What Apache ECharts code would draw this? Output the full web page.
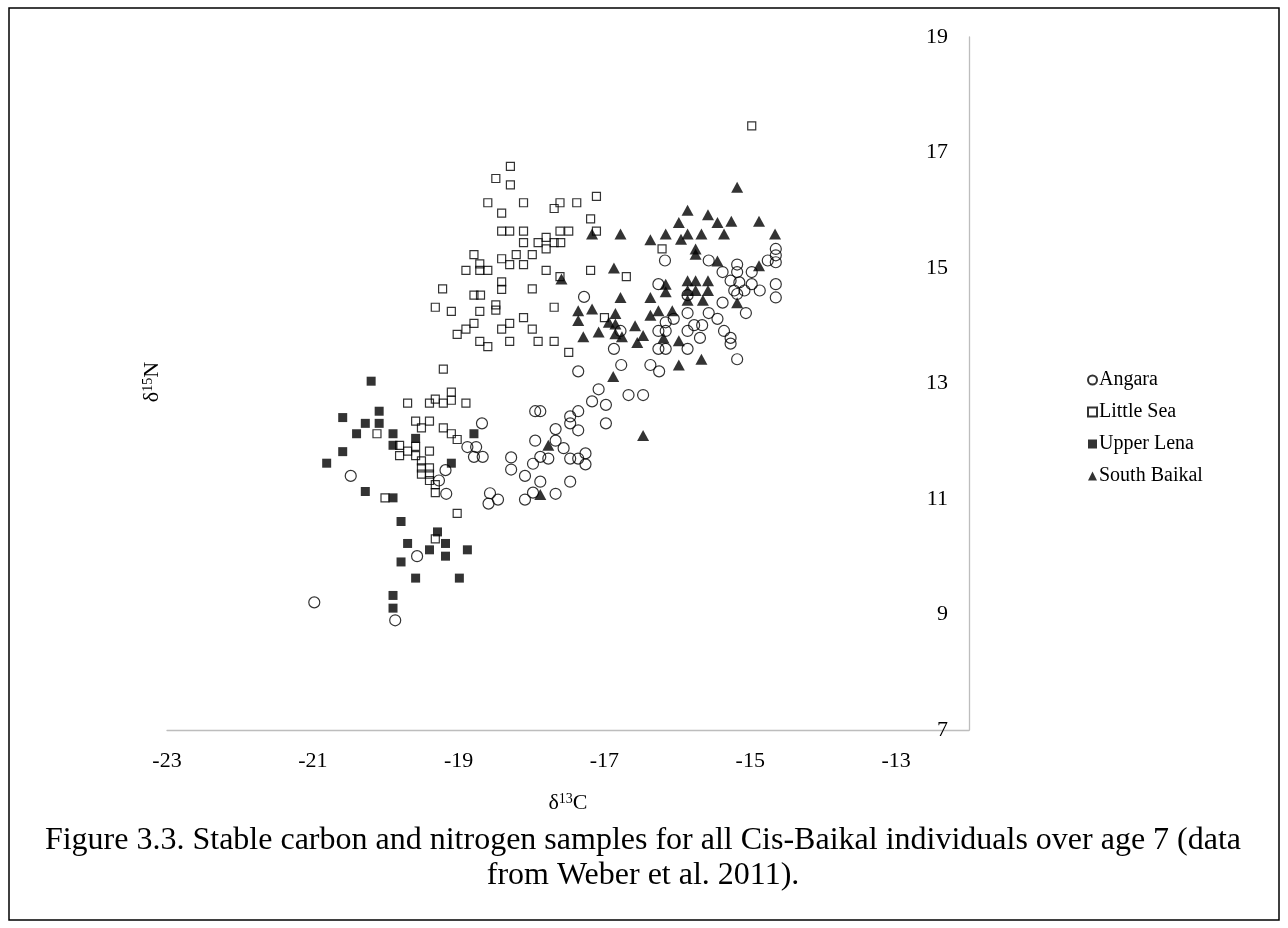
<!DOCTYPE html>
<html>
<head>
<meta charset="utf-8">
<script src="https://cdn.jsdelivr.net/npm/echarts@6/dist/echarts.min.js"></script>
<style>
  html, body { margin: 0; padding: 0; background: #fff; }
  #chart { width: 1288px; height: 928px; }
</style>
</head>
<body>
<div id="chart"></div>
<script>
// δ13C / δ15N (‰) pairs for each Cis-Baikal region
const angara = [
  [-20.48,11.40],[-20.98,9.21],[-19.87,8.90],[-19.57,10.01],[-19.18,11.50],[-19.27,11.32],[-19.17,11.09],
  [-18.68,12.31],[-18.88,11.90],[-18.76,11.90],[-18.79,11.73],[-18.67,11.73],[-18.57,11.10],[-18.46,10.99],
  [-18.59,10.92],[-18.28,11.72],[-18.28,11.51],[-18.09,11.40],[-18.09,10.99],
  [-17.28,14.50],[-16.78,13.91],[-16.87,13.60],
  [-16.77,13.32],[-17.36,13.21],[-16.37,13.32],[-16.25,13.21],[-17.08,12.90],[-17.17,12.69],[-16.98,12.63],
  [-16.67,12.80],[-16.47,12.80],[-16.98,12.31],[-17.95,12.52],[-17.88,12.52],[-17.36,12.52],[-17.47,12.43],
  [-17.47,12.31],[-17.36,12.19],[-17.67,12.21],[-17.95,12.01],[-17.67,12.01],[-17.56,11.88],[-17.88,11.73],
  [-17.77,11.70],[-17.98,11.61],[-17.47,11.70],[-17.36,11.70],[-17.26,11.79],[-17.26,11.60],[-17.88,11.30],
  [-17.47,11.30],[-17.98,11.11],[-17.67,11.09],
  [-16.26,13.60],[-16.16,13.60],[-15.86,13.60],[-16.26,13.91],[-16.16,13.91],[-15.86,13.91],[-15.69,13.79],
  [-15.77,14.01],[-15.66,14.01],[-15.36,13.91],[-15.27,13.79],[-15.27,13.69],[-15.18,13.42],[-15.06,14.22],
  [-15.45,14.12],[-15.57,14.22],[-15.86,14.22],[-16.05,14.12],[-16.16,14.06],
  [-16.17,15.13],[-15.57,15.13],[-14.65,15.33],[-14.65,15.22],[-14.65,15.10],[-14.76,15.13],[-15.18,15.06],
  [-15.18,14.93],[-15.38,14.93],[-14.98,14.93],[-15.27,14.78],[-15.15,14.75],[-14.98,14.72],[-14.87,14.61],
  [-15.08,14.61],[-15.22,14.61],[-14.65,14.72],[-14.65,14.49],[-16.26,14.72],[-15.38,14.40],[-15.18,14.55],
  [-15.86,14.53]
];
const littleSea = [
  [-19.21,13.25],[-19.70,12.66],[-19.40,12.66],[-19.32,12.73],[-19.21,12.66],[-19.10,12.85],[-19.10,12.71],
  [-18.90,12.66],[-19.59,12.35],[-19.51,12.23],[-19.40,12.35],[-20.12,12.13],[-19.21,12.23],[-19.10,12.13],
  [-19.02,12.03],[-19.81,11.93],[-19.81,11.75],[-19.70,11.83],[-19.59,11.91],[-19.59,11.75],[-19.40,11.83],
  [-19.51,11.66],[-19.51,11.54],[-19.40,11.54],[-19.51,11.43],[-19.40,11.43],[-19.40,11.32],[-19.32,11.25],
  [-19.32,11.11],[-20.01,11.02],[-19.02,10.75],[-19.32,10.31],
  [-18.29,16.76],[-18.49,16.55],[-18.29,16.44],[-18.60,16.13],[-18.11,16.13],[-18.41,15.95],[-17.61,16.13],
  [-17.69,16.03],[-17.38,16.13],[-17.11,16.24],[-17.19,15.85],[-18.41,15.64],[-18.30,15.64],[-18.11,15.64],
  [-17.61,15.64],[-17.49,15.64],[-17.11,15.64],[-18.11,15.44],[-17.91,15.44],[-17.80,15.53],[-17.80,15.33],
  [-17.69,15.44],[-17.60,15.44],[-18.79,15.23],[-18.71,15.07],[-18.41,15.16],[-18.21,15.23],[-17.99,15.23],
  [-18.30,15.06],[-18.11,15.06],[-18.90,14.96],[-18.71,14.96],[-18.60,14.96],[-17.80,14.96],[-17.19,14.96],
  [-16.70,14.85],[-17.61,14.85],[-18.41,14.76],[-18.41,14.63],[-19.22,14.64],[-17.99,14.64],[-18.79,14.53],
  [-18.70,14.53],[-19.32,14.32],[-19.10,14.25],[-18.71,14.25],[-18.49,14.36],[-18.49,14.27],[-17.69,14.32],
  [-18.11,14.14],[-18.79,14.04],[-18.90,13.94],[-19.02,13.85],[-18.30,14.04],[-18.41,13.94],[-17.99,13.94],
  [-18.71,13.73],[-18.60,13.64],[-18.30,13.73],[-17.91,13.73],[-17.69,13.73],[-17.49,13.54],[-17.00,14.14],
  [-14.98,17.46],[-16.21,15.33]
];
const upperLena = [
  [-20.20,13.04],[-20.59,12.41],[-20.09,12.52],[-20.28,12.31],[-20.09,12.31],[-20.40,12.13],[-19.90,12.13],
  [-19.59,12.05],[-19.90,11.93],[-20.59,11.82],[-20.81,11.62],[-18.79,12.13],[-19.10,11.62],[-20.28,11.13],
  [-19.90,11.02],[-19.79,10.61],[-19.29,10.43],[-19.70,10.23],[-19.40,10.12],[-19.18,10.23],[-19.18,10.01],
  [-18.88,10.12],[-19.79,9.91],[-19.59,9.63],[-18.99,9.63],[-19.90,9.33],[-19.90,9.11]
];
const southBaikal = [
  [-17.17,15.59],[-16.78,15.59],[-17.59,14.81],[-16.87,15.00],[-16.78,14.49],[-17.36,14.26],[-17.17,14.29],
  [-17.36,14.09],[-16.85,14.21],[-16.94,14.06],[-16.85,14.03],[-17.08,13.89],[-17.29,13.81],[-16.85,13.86],
  [-16.76,13.81],[-16.58,14.00],
  [-16.55,13.71],[-16.47,13.83],[-16.37,14.18],[-16.26,14.26],[-16.07,14.26],[-16.19,13.79],[-15.98,13.74],
  [-15.98,13.32],[-15.67,13.42],[-16.88,13.12],[-16.47,12.10],[-17.77,11.93],[-17.88,11.08],
  [-15.18,16.40],[-15.86,16.00],[-15.98,15.79],[-15.58,15.92],[-15.45,15.79],[-15.26,15.81],[-14.88,15.81],
  [-14.66,15.59],[-15.36,15.59],[-15.67,15.59],[-15.86,15.59],[-15.95,15.50],[-16.16,15.59],[-16.37,15.49],
  [-15.75,15.24],[-15.75,15.33],[-15.45,15.12],[-14.88,15.04],[-16.37,14.49],[-16.16,14.72],[-16.16,14.59],
  [-15.86,14.78],[-15.75,14.78],[-15.58,14.78],[-15.86,14.61],[-15.75,14.61],[-15.58,14.61],[-15.86,14.44],
  [-15.65,14.44],[-15.18,14.40]
];

const seriesNames = ['Angara', 'Little Sea', 'Upper Lena', 'South Baikal'];
const xRange = [-23, -12];
const yRange = [7, 19];
const tickStep = 2;
const captionLines = [
  'Figure 3.3. Stable carbon and nitrogen samples for all Cis-Baikal individuals over age 7 (data',
  'from Weber et al. 2011).'
];

const serif = '"Liberation Serif", "Times New Roman", serif';
const captionSize = 32;
const openStyle = { color: 'rgba(0,0,0,0)', borderColor: '#000', borderWidth: 1.2 };
const solidStyle = { color: '#000', borderWidth: 0 };

const chart = echarts.init(document.getElementById('chart'), null, { renderer: 'canvas' });

chart.setOption({
  animation: false,
  backgroundColor: '#fff',
  textStyle: { fontFamily: serif, color: '#000' },
  grid: { left: 167, right: 319, top: 37, bottom: 198, containLabel: false },
  xAxis: {
    type: 'value',
    min: xRange[0], max: xRange[1], interval: tickStep,
    axisLine: { show: true, onZero: false, lineStyle: { color: '#bdbdbd', width: 1.3 } },
    axisTick: { show: false },
    splitLine: { show: false },
    axisLabel: { showMaxLabel: false, margin: 20, fontSize: 22, fontFamily: serif, color: '#000' },
    name: '{d|δ}{s|13}{d|C}',
    nameLocation: 'middle',
    nameGap: 62,
    nameTextStyle: {
      rich: {
        d: { fontSize: 22, fontFamily: serif, color: '#000' },
        s: { fontSize: 14, fontFamily: serif, color: '#000', padding: [0, 0, 7, 0] }
      }
    }
  },
  yAxis: {
    type: 'value',
    position: 'right',
    min: yRange[0], max: yRange[1], interval: tickStep,
    axisLine: { show: true, onZero: false, lineStyle: { color: '#bdbdbd', width: 1.3 } },
    axisTick: { show: false },
    splitLine: { show: false },
    axisLabel: { inside: true, margin: 21, fontSize: 22, fontFamily: serif, color: '#000' }
  },
  legend: {
    orient: 'vertical',
    left: 1082,
    top: 365,
    itemWidth: 9,
    itemHeight: 9,
    itemGap: 12,
    textStyle: { fontSize: 20, fontFamily: serif, color: '#000', padding: [0, 0, 0, -3] },
    data: seriesNames
  },
  graphic: [
    {
      type: 'rect',
      shape: { x: 9, y: 8, width: 1270, height: 912 },
      style: { fill: 'none', stroke: '#000', lineWidth: 1.5 },
      silent: true
    },
    {
      type: 'text',
      x: 152, y: 382,
      rotation: Math.PI / 2,
      silent: true,
      style: {
        text: '{d|δ}{s|15}{d|N}',
        align: 'center',
        verticalAlign: 'middle',
        rich: {
          d: { fontSize: 22, fontFamily: serif, fill: '#000' },
          s: { fontSize: 14, fontFamily: serif, fill: '#000', padding: [0, 0, 7, 0] }
        }
      }
    },
    {
      type: 'text', x: 643, y: 841, silent: true,
      style: { text: captionLines[0], align: 'center', verticalAlign: 'middle', fontSize: captionSize, fontFamily: serif, fill: '#000' }
    },
    {
      type: 'text', x: 643, y: 876, silent: true,
      style: { text: captionLines[1], align: 'center', verticalAlign: 'middle', fontSize: captionSize, fontFamily: serif, fill: '#000' }
    }
  ],
  series: [
    { name: seriesNames[0], type: 'scatter', data: angara, symbol: 'circle', symbolSize: 11, itemStyle: openStyle },
    { name: seriesNames[1], type: 'scatter', data: littleSea, symbol: 'rect', symbolSize: 8, itemStyle: openStyle },
    { name: seriesNames[2], type: 'scatter', data: upperLena, symbol: 'rect', symbolSize: 9, itemStyle: solidStyle },
    { name: seriesNames[3], type: 'scatter', data: southBaikal, symbol: 'triangle', symbolSize: [12, 11], itemStyle: solidStyle }
  ]
});
</script>
</body>
</html>
